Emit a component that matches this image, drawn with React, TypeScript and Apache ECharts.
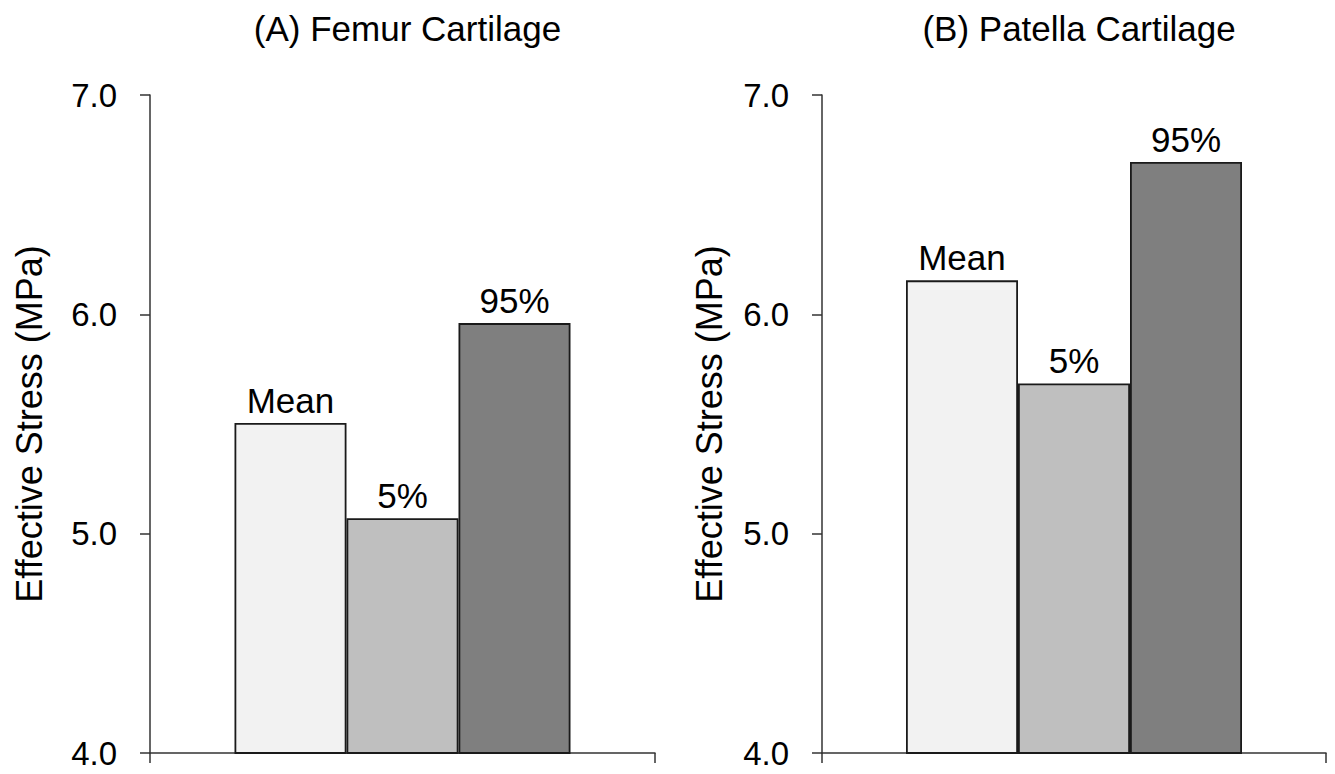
import React, { useEffect, useRef } from "react";
import * as echarts from "echarts";

const panelTitles = ["(A) Femur Cartilage", "(B) Patella Cartilage"];
const seriesNames = ["Mean", "5%", "95%"];
const femurValues = [5.505, 5.07, 5.96];
const patellaValues = [6.155, 5.685, 6.695];
const yTicks = [4, 5, 6, 7];
const axisName = "Effective Stress (MPa)";
const barColors = ["#f2f2f2", "#bfbfbf", "#7f7f7f"];

const FONT = "Liberation Sans, Arial, sans-serif";

export default function App() {
  const ref = useRef<HTMLDivElement>(null);
  useEffect(() => {
    if (!ref.current) return;
    const chart = echarts.init(ref.current, undefined, { renderer: "svg" });
    const panels = [femurValues, patellaValues];
    const grids = [
      { left: 150, top: 95, width: 505, height: 658 },
      { left: 822, top: 95, width: 504, height: 658 },
    ];
    const nameGaps = [103, 95];
    const option: any = {
      animation: false,
      backgroundColor: "#ffffff",
      title: panelTitles.map((t, i) => ({
        text: t,
        left: grids[i].left + grids[i].width / 2,
        top: 6,
        textAlign: "center",
        textStyle: { fontFamily: FONT, fontSize: 35, fontWeight: "normal", color: "#000" },
      })),
      grid: grids.map((g) => ({ ...g, containLabel: false })),
      xAxis: grids.map((_, i) => ({
        type: "category",
        gridIndex: i,
        data: [""],
        axisLine: { lineStyle: { color: "#333", width: 1.5 } },
        axisTick: { show: true, length: 10, lineStyle: { color: "#333", width: 1.5 } },
        axisLabel: { show: false },
        splitLine: { show: false },
      })),
      yAxis: grids.map((_, i) => ({
        type: "value",
        gridIndex: i,
        min: yTicks[0],
        max: yTicks[yTicks.length - 1],
        interval: 1,
        name: axisName,
        nameLocation: "middle",
        nameGap: nameGaps[i],
        nameTextStyle: { fontFamily: FONT, fontSize: 36, color: "#000" },
        axisLine: { show: true, lineStyle: { color: "#333", width: 1.5 } },
        axisTick: { show: true, length: 10, lineStyle: { color: "#333", width: 1.5 } },
        axisLabel: {
          margin: 33,
          fontFamily: FONT,
          fontSize: 33,
          color: "#000",
          formatter: (v: number) => v.toFixed(1),
        },
        splitLine: { show: false },
      })),
      series: [] as any[],
    };
    panels.forEach((vals, p) => {
      seriesNames.forEach((name, k) => {
        option.series.push({
          type: "bar",
          name,
          xAxisIndex: p,
          yAxisIndex: p,
          data: [vals[k]],
          barWidth: 112,
          barGap: "0%",
          itemStyle: { color: barColors[k], borderColor: "#1a1a1a", borderWidth: 1.8 },
          label: {
            show: true,
            position: "top",
            distance: 5,
            formatter: "{a}",
            fontFamily: FONT,
            fontSize: 35,
            color: "#000",
          },
        });
      });
    });
    chart.setOption(option);
    return () => chart.dispose();
  }, []);
  return (
    <div
      ref={ref}
      style={{ position: "fixed", left: 0, top: 0, width: 1335, height: 774, background: "#fff" }}
    />
  );
}
